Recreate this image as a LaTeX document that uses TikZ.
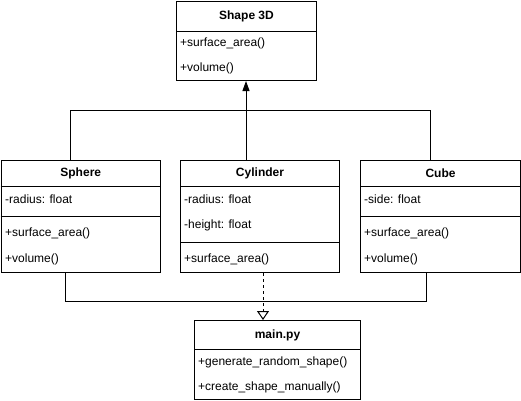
\documentclass[tikz,border=0pt]{standalone}
\usepackage{fontspec}
\setmainfont{Liberation Sans}
\usetikzlibrary{calc,arrows.meta}
\begin{document}
\begin{tikzpicture}[x=1pt,y=-1pt,
  box/.style={draw=black,line width=1pt,fill=white,anchor=north west,inner sep=0pt},
  title/.style={font=\fontsize{12}{14}\selectfont\bfseries,inner sep=0pt},
  row/.style={font=\fontsize{12}{14}\selectfont,anchor=west,inner sep=0pt},
  sep/.style={line width=1pt},
  conn/.style={line width=1pt}]
\useasboundingbox (0,0) rectangle (521,400);

% Shape 3D
\node[box,minimum width=140pt,minimum height=79pt] (shape) at (176,1) {};
\node[title] (shape-t) at ($(shape.north)+(0,15)$) {Shape 3D};
\draw[sep] ($(shape.north west)+(0,30)$) -- ($(shape.north east)+(0,30)$);
\node[row] (shape-m1) at ($(shape.north west)+(4,42.5)$) {+surface\_area()};
\node[row] (shape-m2) at ($(shape.north west)+(4,67.5)$) {+volume()};

% Sphere
\node[box,minimum width=159.5pt,minimum height=112pt] (sphere) at (0.5,160) {};
\node[title] (sphere-t) at ($(sphere.north)+(0,13)$) {Sphere};
\draw[sep] ($(sphere.north west)+(0,26)$) -- ($(sphere.north east)+(0,26)$);
\node[row] (sphere-a1) at ($(sphere.north west)+(4.5,39)$) {-radius: float};
\draw[sep] ($(sphere.north west)+(0,56)$) -- ($(sphere.north east)+(0,56)$);
\node[row] (sphere-m1) at ($(sphere.north west)+(4.5,73)$) {+surface\_area()};
\node[row] (sphere-m2) at ($(sphere.north west)+(4.5,99)$) {+volume()};

% Cylinder
\node[box,minimum width=159pt,minimum height=112pt] (cyl) at (180,160) {};
\node[title] (cyl-t) at ($(cyl.north)+(0,13)$) {Cylinder};
\draw[sep] ($(cyl.north west)+(0,26)$) -- ($(cyl.north east)+(0,26)$);
\node[row] (cyl-a1) at ($(cyl.north west)+(4,39)$) {-radius: float};
\node[row] (cyl-a2) at ($(cyl.north west)+(4,65)$) {-height: float};
\draw[sep] ($(cyl.north west)+(0,82)$) -- ($(cyl.north east)+(0,82)$);
\node[row] (cyl-m1) at ($(cyl.north west)+(4,99)$) {+surface\_area()};

% Cube
\node[box,minimum width=160pt,minimum height=112pt] (cube) at (360,160) {};
\node[title] (cube-t) at ($(cube.north)+(0,13)$) {Cube};
\draw[sep] ($(cube.north west)+(0,26)$) -- ($(cube.north east)+(0,26)$);
\node[row] (cube-a1) at ($(cube.north west)+(4,39)$) {-side: float};
\draw[sep] ($(cube.north west)+(0,56)$) -- ($(cube.north east)+(0,56)$);
\node[row] (cube-m1) at ($(cube.north west)+(4,73)$) {+surface\_area()};
\node[row] (cube-m2) at ($(cube.north west)+(4,99)$) {+volume()};

% main.py
\node[box,minimum width=166pt,minimum height=79pt] (main) at (194,320) {};
\node[title] (main-t) at ($(main.north)+(0,15)$) {main.py};
\draw[sep] ($(main.north west)+(0,29)$) -- ($(main.north east)+(0,29)$);
\node[row] (main-m1) at ($(main.north west)+(4,42.5)$) {+generate\_random\_shape()};
\node[row] (main-m2) at ($(main.north west)+(4,67)$) {+create\_shape\_manually()};

% connectors
\coordinate (sphTop) at ($(sphere.north west)+(69.5,0)$);
\coordinate (cubeTop) at ($(cube.north west)+(70,0)$);
\draw[conn] (sphTop) -- ++(0,-50) -| (cubeTop);
\draw[conn,-{Triangle[length=10pt,width=7pt]}] ($(cyl.north west)+(66,0)$) -- ($(shape.south west)+(70,0)$);

\coordinate (sphBot) at ($(sphere.south west)+(64.5,0)$);
\coordinate (cubeBot) at ($(cube.south west)+(66,0)$);
\draw[conn] (sphBot) -- ++(0,28) -| (cubeBot);
\draw[conn,dash pattern=on 3pt off 3pt,-{Triangle[open,length=9pt,width=12pt]}] ($(cyl.south west)+(83,0)$) -- ($(main.north west)+(69,0)$);
\end{tikzpicture}
\end{document}
